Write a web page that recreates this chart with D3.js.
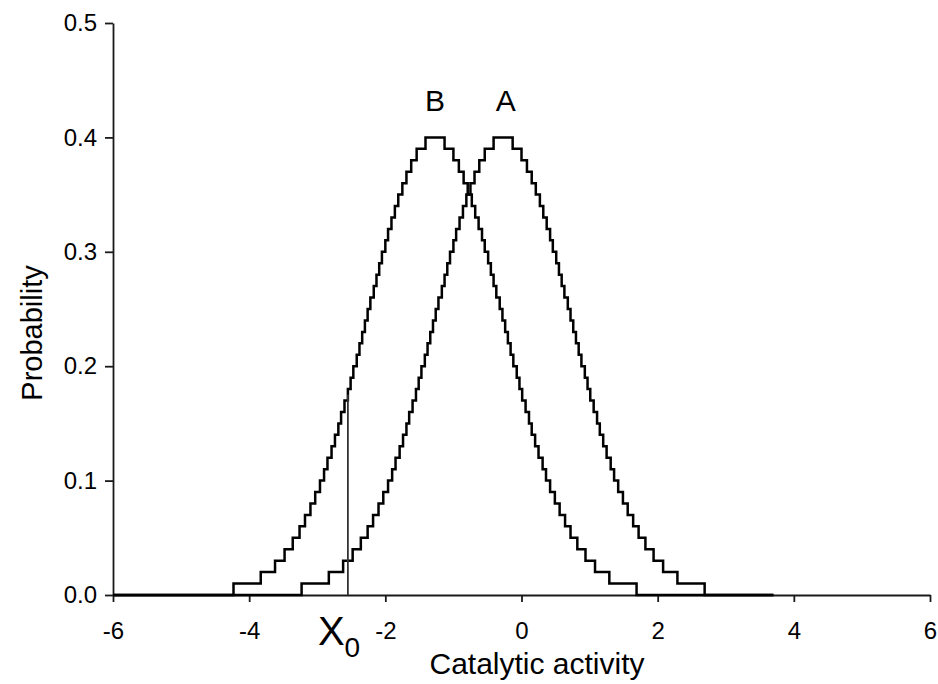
<!DOCTYPE html>
<html lang="en">
<head>
    <meta charset="UTF-8">
    <title>Catalytic activity distributions</title>
    <script src="https://d3js.org/d3.v7.min.js"></script>
    <style>
        body { margin: 0; background: #fff; }
        svg { font-family: "Liberation Sans", Arial, sans-serif; }
        .axis path, .axis line { stroke: #1a1a1a; stroke-width: 1.8; }
        .axis text { font-size: 24px; fill: #000; }
        .curve { fill: none; stroke: #000; stroke-width: 2.5; }
    </style>
</head>
<body>
    <svg id="chart" width="938" height="684"></svg>

    <script>
        // Step levels (probability) and the x positions where each curve reaches / leaves that level
        const levels = [0.01, 0.02, 0.03, 0.04, 0.05, 0.06, 0.07, 0.08, 0.09, 0.10,
                        0.11, 0.12, 0.13, 0.14, 0.15, 0.16, 0.17, 0.18, 0.19, 0.20,
                        0.21, 0.22, 0.23, 0.24, 0.25, 0.26, 0.27, 0.28, 0.29, 0.30,
                        0.31, 0.32, 0.33, 0.34, 0.35, 0.36, 0.37, 0.38, 0.39, 0.40];

        // curve A
        const riseA = [-3.23, -2.83, -2.62, -2.48, -2.36, -2.26, -2.18, -2.10, -2.03, -1.96,
                       -1.90, -1.85, -1.79, -1.74, -1.69, -1.65, -1.60, -1.55, -1.51, -1.47,
                       -1.42, -1.38, -1.34, -1.30, -1.26, -1.22, -1.17, -1.13, -1.09, -1.05,
                       -1.00, -0.96, -0.91, -0.86, -0.81, -0.75, -0.69, -0.62, -0.54, -0.41];
        const fallA = [2.69, 2.29, 2.08, 1.94, 1.82, 1.72, 1.64, 1.56, 1.49, 1.42,
                       1.36, 1.31, 1.25, 1.20, 1.15, 1.11, 1.06, 1.01, 0.97, 0.93,
                       0.88, 0.84, 0.80, 0.76, 0.72, 0.68, 0.63, 0.59, 0.55, 0.51,
                       0.46, 0.42, 0.37, 0.32, 0.27, 0.21, 0.15, 0.08, 0.00, -0.13];

        // curve B
        const riseB = [-4.23, -3.83, -3.62, -3.48, -3.36, -3.26, -3.18, -3.10, -3.03, -2.96,
                       -2.90, -2.85, -2.79, -2.74, -2.69, -2.65, -2.60, -2.55, -2.51, -2.47,
                       -2.42, -2.38, -2.34, -2.30, -2.26, -2.22, -2.17, -2.13, -2.09, -2.05,
                       -2.00, -1.96, -1.91, -1.86, -1.81, -1.75, -1.69, -1.62, -1.54, -1.41];
        const fallB = [1.69, 1.29, 1.08, 0.94, 0.82, 0.72, 0.64, 0.56, 0.49, 0.42,
                       0.36, 0.31, 0.25, 0.20, 0.15, 0.11, 0.06, 0.01, -0.03, -0.07,
                       -0.12, -0.16, -0.20, -0.24, -0.28, -0.32, -0.37, -0.41, -0.45, -0.49,
                       -0.54, -0.58, -0.63, -0.68, -0.73, -0.79, -0.85, -0.92, -1.00, -1.13];

        const dataStart = -6, dataEnd = 3.7;

        // threshold X0 and the curve labels
        const x0Value = -2.55, x0Top = 0.175;
        const curveLabels = [
            { name: "B", x: -1.27 },
            { name: "A", x: -0.23 }
        ];

        const xTicks = [-6, -4, -2, 0, 2, 4, 6];
        const yTicks = [0.0, 0.1, 0.2, 0.3, 0.4, 0.5];

        const svg = d3.select("#chart");
        const margin = { top: 23, right: 8, bottom: 89, left: 113 };
        const width = +svg.attr("width"), height = +svg.attr("height");

        const x = d3.scaleLinear().domain([-6, 6]).range([margin.left, width - margin.right]);
        const y = d3.scaleLinear().domain([0, 0.5]).range([height - margin.bottom, margin.top]);

        // build stepped points from the level arrays
        function stepPoints(rise, fall) {
            const pts = [[dataStart, 0]];
            rise.forEach((rx, i) => pts.push([rx, levels[i]]));
            for (let i = fall.length - 1; i >= 0; i--) {
                pts.push([fall[i], i > 0 ? levels[i - 1] : 0]);
            }
            pts.push([dataEnd, 0]);
            return pts;
        }

        const line = d3.line()
            .x(d => x(d[0]))
            .y(d => y(d[1]))
            .curve(d3.curveStepAfter);

        // axes
        svg.append("g")
            .attr("class", "axis")
            .attr("transform", "translate(0," + y(0) + ")")
            .call(d3.axisBottom(x).tickValues(xTicks).tickFormat(d => String(d)).tickSize(7).tickSizeOuter(0).tickPadding(20));

        svg.append("g")
            .attr("class", "axis")
            .attr("transform", "translate(" + x(-6) + ",0)")
            .call(d3.axisLeft(y).tickValues(yTicks).tickFormat(d3.format(".1f")).tickSize(8).tickSizeOuter(0).tickPadding(8));

        // curves
        svg.append("path")
            .datum(stepPoints(riseB, fallB))
            .attr("class", "curve")
            .attr("d", line);

        svg.append("path")
            .datum(stepPoints(riseA, fallA))
            .attr("class", "curve")
            .attr("d", line);

        // X0 marker
        svg.append("line")
            .attr("x1", x(x0Value)).attr("x2", x(x0Value))
            .attr("y1", y(0)).attr("y2", y(x0Top))
            .attr("stroke", "#333")
            .attr("stroke-width", 1.8);

        const x0Text = svg.append("text")
            .attr("x", x(x0Value) - 30)
            .attr("y", 645)
            .attr("font-size", 40)
            .attr("fill", "#000");
        x0Text.append("tspan").text("X");
        x0Text.append("tspan").attr("font-size", 28).attr("dy", 12).text("0");

        // curve labels
        svg.selectAll(".curve-label")
            .data(curveLabels)
            .enter().append("text")
            .attr("class", "curve-label")
            .attr("x", d => x(d.x))
            .attr("y", 111)
            .attr("text-anchor", "middle")
            .attr("font-size", 30)
            .attr("fill", "#000")
            .text(d => d.name);

        // axis titles
        svg.append("text")
            .attr("x", 537)
            .attr("y", 674)
            .attr("text-anchor", "middle")
            .attr("font-size", 30)
            .attr("fill", "#000")
            .text("Catalytic activity");

        svg.append("text")
            .attr("transform", "translate(42,333) rotate(-90)")
            .attr("text-anchor", "middle")
            .attr("font-size", 29)
            .attr("fill", "#000")
            .text("Probability");
    </script>
</body>
</html>
